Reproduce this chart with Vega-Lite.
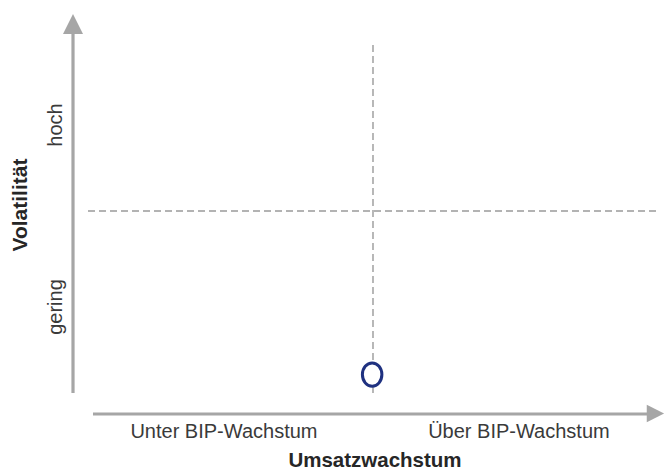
{
  "$schema": "https://vega.github.io/schema/vega-lite/v6.json",
  "width": 665,
  "height": 470,
  "autosize": {"type": "none"},
  "padding": 0,
  "background": "white",
  "config": {"view": {"stroke": null}},
  "datasets": {
    "axes": [
      {"part": "Volatilität-Achse", "x": -0.0526, "x2": -0.0526, "y": 0.0, "y2": 2.06},
      {"part": "Umsatzwachstum-Achse", "x": 0.0175, "x2": 1.965, "y": -0.1197, "y2": -0.1197}
    ],
    "thresholds": [
      {"part": "Volatilität-Schwelle", "x": 0.0, "x2": 2.0, "y": 1.037, "y2": 1.037},
      {"part": "BIP-Wachstum", "x": 1.0, "x2": 1.0, "y": 0.0, "y2": 2.0}
    ],
    "arrowUp": [{"x": -0.0526, "y": 2.1026}],
    "arrowRight": [{"x": 1.991, "y": -0.1168}],
    "points": [{"name": "Unternehmen", "x": 0.997, "y": 0.105}],
    "xLabels": [
      {"label": "Unter BIP-Wachstum", "x": 0.477, "y": -0.2564},
      {"label": "Über BIP-Wachstum", "x": 1.512, "y": -0.2564}
    ],
    "yLabels": [
      {"label": "hoch", "x": -0.0912, "y": 1.527},
      {"label": "gering", "x": -0.0912, "y": 0.49}
    ],
    "xTitle": [{"label": "Umsatzwachstum", "x": 1.007, "y": -0.4217}],
    "yTitle": [{"label": "Volatilität", "x": -0.214, "y": 1.071}]
  },
  "encoding": {
    "x": {"field": "x", "type": "quantitative", "axis": null, "scale": {"domain": [-0.30877, 2.02456], "nice": false, "zero": false}},
    "y": {"field": "y", "type": "quantitative", "axis": null, "scale": {"domain": [-0.43875, 2.23932], "nice": false, "zero": false}}
  },
  "layer": [
    {
      "data": {"name": "thresholds"},
      "mark": {"type": "rule", "color": "#9a9a9a", "strokeWidth": 1.4, "strokeDash": [7, 4]},
      "encoding": {"x2": {"field": "x2"}, "y2": {"field": "y2"}}
    },
    {
      "data": {"name": "axes"},
      "mark": {"type": "rule", "color": "#a6a6a6", "strokeWidth": 3.2},
      "encoding": {"x2": {"field": "x2"}, "y2": {"field": "y2"}}
    },
    {
      "data": {"name": "arrowUp"},
      "mark": {"type": "point", "shape": "M0,-1L1,1L-1,1Z", "size": 400, "filled": true, "color": "#a6a6a6", "opacity": 1}
    },
    {
      "data": {"name": "arrowRight"},
      "mark": {"type": "point", "shape": "M-1,-1L1,0L-1,1Z", "size": 300, "filled": true, "color": "#a6a6a6", "opacity": 1}
    },
    {
      "data": {"name": "points"},
      "mark": {"type": "point", "shape": "M0,-1.2A1,1.2,0,1,1,0,1.2A1,1.2,0,1,1,0,-1.2Z", "size": 380, "filled": false, "fill": "white", "fillOpacity": 1, "stroke": "#1f3180", "strokeWidth": 3, "opacity": 1}
    },
    {
      "data": {"name": "xLabels"},
      "mark": {"type": "text", "font": "Liberation Sans", "fontSize": 20, "color": "#3a3a3a", "align": "center", "baseline": "alphabetic"},
      "encoding": {"text": {"field": "label"}}
    },
    {
      "data": {"name": "yLabels"},
      "mark": {"type": "text", "font": "Liberation Sans", "fontSize": 20, "color": "#3a3a3a", "align": "center", "baseline": "alphabetic", "angle": 270},
      "encoding": {"text": {"field": "label"}}
    },
    {
      "data": {"name": "xTitle"},
      "mark": {"type": "text", "font": "Liberation Sans", "fontSize": 20.5, "fontWeight": "bold", "color": "#262626", "align": "center", "baseline": "alphabetic"},
      "encoding": {"text": {"field": "label"}}
    },
    {
      "data": {"name": "yTitle"},
      "mark": {"type": "text", "font": "Liberation Sans", "fontSize": 21, "fontWeight": "bold", "color": "#262626", "align": "center", "baseline": "alphabetic", "angle": 270},
      "encoding": {"text": {"field": "label"}}
    }
  ]
}
